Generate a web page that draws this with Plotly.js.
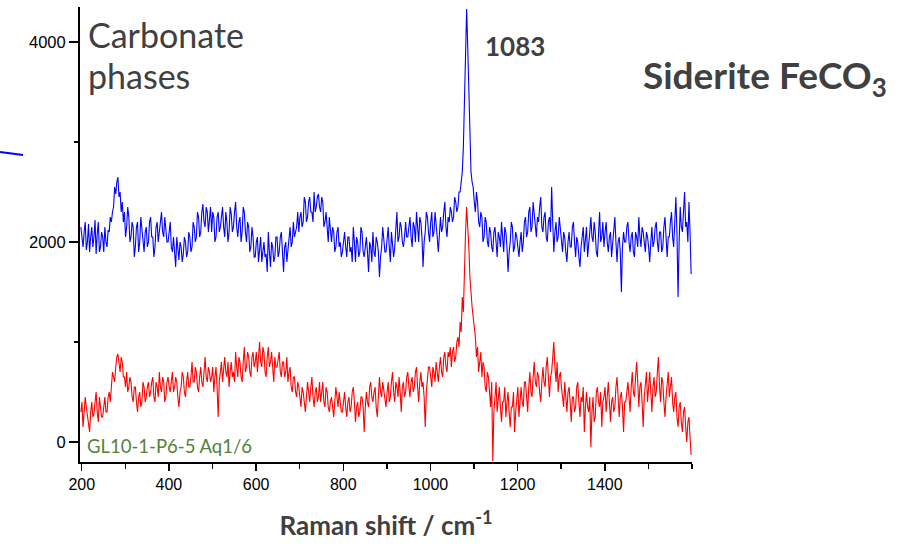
<!DOCTYPE html>
<html>
<head>
<meta charset="utf-8">
<script src="https://cdn.plot.ly/plotly-3.0.1.min.js"></script>
<style>
  html, body { margin: 0; padding: 0; background: #ffffff; }
  #chart { width: 923px; height: 546px; }
</style>
</head>
<body>
<div id="chart"></div>
<script>
// Raman shift (cm-1)
const ramanShift = [
  198,200.5,203,205.5,208,210.5,213,215.5,218,220.5,223,225.5,228,230.5,233,235.5,238,240.5,243,245.5,
  248,250.5,253,255.5,258,260.5,263,265.5,268,270.5,273,275.5,278,280.5,283,285.5,288,290.5,293,295.5,
  298,300.5,303,305.5,308,310.5,313,315.5,318,320.5,323,325.5,328,330.5,333,335.5,338,340.5,343,345.5,
  348,350.5,353,355.5,358,360.5,363,365.5,368,370.5,373,375.5,378,380.5,383,385.5,388,390.5,393,395.5,
  398,400.5,403,405.5,408,410.5,413,415.5,418,420.5,423,425.5,428,430.5,433,435.5,438,440.5,443,445.5,
  448,450.5,453,455.5,458,460.5,463,465.5,468,470.5,473,475.5,478,480.5,483,485.5,488,490.5,493,495.5,
  498,500.5,503,505.5,508,510.5,513,515.5,518,520.5,523,525.5,528,530.5,533,535.5,538,540.5,543,545.5,
  548,550.5,553,555.5,558,560.5,563,565.5,568,570.5,573,575.5,578,580.5,583,585.5,588,590.5,593,595.5,
  598,600.5,603,605.5,608,610.5,613,615.5,618,620.5,623,625.5,628,630.5,633,635.5,638,640.5,643,645.5,
  648,650.5,653,655.5,658,660.5,663,665.5,668,670.5,673,675.5,678,680.5,683,685.5,688,690.5,693,695.5,
  698,700.5,703,705.5,708,710.5,713,715.5,718,720.5,723,725.5,728,730.5,733,735.5,738,740.5,743,745.5,
  748,750.5,753,755.5,758,760.5,763,765.5,768,770.5,773,775.5,778,780.5,783,785.5,788,790.5,793,795.5,
  798,800.5,803,805.5,808,810.5,813,815.5,818,820.5,823,825.5,828,830.5,833,835.5,838,840.5,843,845.5,
  848,850.5,853,855.5,858,860.5,863,865.5,868,870.5,873,875.5,878,880.5,883,885.5,888,890.5,893,895.5,
  898,900.5,903,905.5,908,910.5,913,915.5,918,920.5,923,925.5,928,930.5,933,935.5,938,940.5,943,945.5,
  948,950.5,953,955.5,958,960.5,963,965.5,968,970.5,973,975.5,978,980.5,983,985.5,988,990.5,993,995.5,
  998,1000.5,1003,1005.5,1008,1010.5,1013,1015.5,1018,1020.5,1023,1025.5,1028,1030.5,1033,1035.5,1038,1040.5,1043,1045.5,
  1048,1050.5,1053,1055.5,1058,1060.5,1063,1065.5,1068,1070.5,1073,1075.5,1078,1080.5,1083,1085.5,1088,1090.5,1093,1095.5,
  1098,1100.5,1103,1105.5,1108,1110.5,1113,1115.5,1118,1120.5,1123,1125.5,1128,1130.5,1133,1135.5,1138,1140.5,1143,1145.5,
  1148,1150.5,1153,1155.5,1158,1160.5,1163,1165.5,1168,1170.5,1173,1175.5,1178,1180.5,1183,1185.5,1188,1190.5,1193,1195.5,
  1198,1200.5,1203,1205.5,1208,1210.5,1213,1215.5,1218,1220.5,1223,1225.5,1228,1230.5,1233,1235.5,1238,1240.5,1243,1245.5,
  1248,1250.5,1253,1255.5,1258,1260.5,1263,1265.5,1268,1270.5,1273,1275.5,1278,1280.5,1283,1285.5,1288,1290.5,1293,1295.5,
  1298,1300.5,1303,1305.5,1308,1310.5,1313,1315.5,1318,1320.5,1323,1325.5,1328,1330.5,1333,1335.5,1338,1340.5,1343,1345.5,
  1348,1350.5,1353,1355.5,1358,1360.5,1363,1365.5,1368,1370.5,1373,1375.5,1378,1380.5,1383,1385.5,1388,1390.5,1393,1395.5,
  1398,1400.5,1403,1405.5,1408,1410.5,1413,1415.5,1418,1420.5,1423,1425.5,1428,1430.5,1433,1435.5,1438,1440.5,1443,1445.5,
  1448,1450.5,1453,1455.5,1458,1460.5,1463,1465.5,1468,1470.5,1473,1475.5,1478,1480.5,1483,1485.5,1488,1490.5,1493,1495.5,
  1498,1500.5,1503,1505.5,1508,1510.5,1513,1515.5,1518,1520.5,1523,1525.5,1528,1530.5,1533,1535.5,1538,1540.5,1543,1545.5,
  1548,1550.5,1553,1555.5,1558,1560.5,1563,1565.5,1568,1570.5,1573,1575.5,1578,1580.5,1583,1585.5,1588,1590.5,1593,1595.5,
  1598
];

// Upper spectrum (blue, offset)
const blueIntensity = [
  2150,2020,1950,2100,2200,1920,2000,2180,1900,2050,2150,1950,2050,2220,1880,2080,2200,1900,1950,2100,
  2050,1900,2150,2000,1950,2120,2100,2250,2200,2300,2350,2550,2480,2600,2650,2450,2500,2300,2400,2200,
  2300,2050,2150,2350,2250,2000,2050,2200,2150,1850,1950,2150,2200,1900,2000,2250,2100,1950,1900,2100,
  2150,1950,2000,2200,2250,2050,2050,1850,1950,2150,2200,2000,2100,2250,2300,2100,2050,2250,2150,2000,
  2000,2100,2200,1950,1900,2050,1850,1750,2050,1900,1820,2000,1950,1800,1880,2050,2000,1850,1900,2100,
  2050,1900,1950,2200,2150,2000,2050,2300,2250,2050,2100,2300,2380,2200,2150,2350,2300,2100,2200,2350,
  2100,2300,2250,2000,2050,2250,2300,2100,2150,2250,2350,2150,2050,2300,2200,2000,2100,2350,2280,2100,
  2150,2300,2400,2150,2050,2200,2250,2000,2100,2350,2300,2100,2000,2200,2150,1900,1950,2150,2050,1850,
  1850,2000,2050,1800,1900,2050,1800,1950,2000,1850,1880,1700,2100,1900,1750,2000,1950,1800,1850,2050,
  2050,1850,1900,2050,2100,1900,1700,1950,2000,1800,1950,2100,2150,1950,2000,2200,2050,2100,2150,2300,
  2100,2250,2300,2150,2200,2450,2400,2200,2250,2400,2450,2300,2300,2200,2500,2300,2350,2450,2480,2350,
  2300,2450,2400,2150,2200,2300,2100,2000,2250,2100,2000,2150,2100,1900,1950,2100,2150,1950,2000,1850,
  1900,2000,2100,1950,1850,2050,2050,1900,1950,1800,2150,2000,1800,2050,2000,1850,1900,2150,2100,1900,
  1850,1950,2050,1900,1700,2000,1950,1800,2100,1900,1850,2050,2000,1900,1650,1850,1950,2150,2050,1900,
  1900,2050,2150,1950,1800,2100,2000,1850,1950,2100,2300,2000,2050,2200,2150,2000,1950,2050,2200,2050,
  2050,2150,2250,2050,1950,2200,2150,2000,2300,2150,2000,2250,2200,2050,1750,2000,2100,2300,2250,2100,
  2000,2200,2300,2050,2100,2300,2200,2050,1900,2150,2250,2100,2150,2300,2400,2150,2050,2250,2200,2350,
  2300,2200,2250,2450,2400,2300,2350,2500,2500,2600,2700,2950,3350,3900,4330,3950,3450,2950,2700,2600,
  2550,2400,2300,2500,2400,2200,2150,2300,2250,2000,2050,2250,2200,2000,1950,2150,2100,1950,1900,2100,
  2150,2000,1850,2100,2050,1950,2200,2050,1900,2150,2100,1950,1700,1900,2000,2200,2150,1900,1950,2100,
  2050,1950,1850,2000,2100,1900,2000,2200,2250,2050,2100,2300,2350,2100,2150,2400,2300,2150,2050,2250,
  2200,2350,2450,2150,2100,2250,2300,2050,2000,2200,2250,2100,2550,2200,1900,2100,2200,2000,2050,2250,
  2150,2000,1900,2100,2050,1900,1800,2000,2100,1950,1950,2150,2200,2000,1850,2050,2000,1850,1750,1950,
  2050,2150,1900,2050,2150,1850,1950,2100,2250,2050,2000,2200,2100,1900,1850,2150,2300,2000,2050,2200,
  1950,2100,2200,2000,1900,2050,2100,1850,2000,2200,2250,2000,1800,2000,2050,1900,1500,1950,2100,2000,
  2000,2150,2200,2000,1900,2050,2100,1900,1850,2100,2050,1950,2250,2050,1950,2150,2100,2000,1900,2100,
  2050,1950,1800,2000,2150,1950,2000,2150,2200,2000,1900,2100,2100,1900,1950,2150,2250,2050,1850,2050,
  2050,2200,2300,2050,1950,2200,2450,2100,1450,2000,2350,2150,2100,2300,2500,2150,2200,2000,2400,2100,
  1680
];

// Lower spectrum (red)
const redIntensity = [
  300,400,150,300,450,350,250,150,100,300,400,250,280,400,500,300,200,450,350,250,
  250,350,450,300,300,450,500,400,550,700,650,600,750,850,880,750,700,850,800,650,
  650,550,700,500,550,650,600,450,400,550,550,400,300,450,500,350,400,600,550,400,
  450,550,600,450,500,600,650,450,400,600,550,450,700,550,500,650,600,400,450,600,
  650,550,500,600,700,500,550,650,600,450,350,500,550,700,650,500,450,600,700,550,
  550,650,800,600,600,750,700,550,500,650,750,600,550,700,850,650,600,750,700,600,
  650,750,500,650,750,550,250,600,700,800,600,700,850,700,650,800,550,700,800,650,
  700,600,900,750,650,850,800,650,600,800,950,700,750,900,850,700,650,850,900,750,
  800,900,700,850,1000,800,750,950,900,700,650,850,950,750,800,900,700,600,850,750,
  750,850,900,700,650,800,800,650,700,850,600,700,750,550,500,650,650,500,450,600,
  550,450,350,550,500,400,300,450,600,500,400,550,650,450,350,500,550,400,450,600,
  400,500,600,400,350,550,500,350,300,400,450,350,250,400,550,450,350,500,400,300,
  300,400,500,350,250,400,450,300,350,500,550,400,200,350,400,250,300,450,450,350,
  100,350,500,400,350,550,600,450,400,500,550,350,250,450,650,500,450,600,500,400,
  350,500,600,400,450,600,700,500,400,600,550,450,650,500,300,550,600,450,500,650,
  700,550,450,600,650,500,550,700,750,550,400,600,700,550,600,450,150,500,650,750,
  750,600,550,750,700,600,800,700,600,750,850,700,650,850,900,750,700,900,850,950,
  750,900,950,800,850,1000,1050,950,1200,1100,1450,1300,1800,2100,2350,2200,1950,1650,1450,1350,
  1250,1150,1050,850,950,700,800,900,650,800,750,550,500,700,650,450,350,600,-190,300,
  450,600,300,450,550,350,200,400,400,550,250,400,500,300,150,350,350,500,100,300,
  400,550,250,450,550,400,350,600,600,450,300,550,700,500,450,650,800,600,550,700,
  650,500,400,600,750,600,550,750,850,650,450,650,700,850,1000,750,600,800,500,650,
  700,550,450,350,600,450,300,500,550,400,200,450,450,300,350,550,600,400,250,450,
  400,550,100,350,500,350,300,450,-50,300,450,200,250,500,550,400,350,500,150,400,
  450,550,300,450,600,400,200,400,450,300,350,550,650,450,250,450,500,350,100,400,
  400,500,600,450,300,550,700,500,450,650,800,600,350,550,600,400,150,450,550,700,
  400,600,700,500,300,550,650,450,500,700,850,550,400,650,600,400,250,450,550,700,
  450,600,650,400,300,450,500,250,150,350,400,200,100,300,350,150,0,200,250,50,
  -130
];

const xTickVals = [200, 400, 600, 800, 1000, 1200, 1400];
const xTickText = ["200", "400", "600", "800", "1000", "1200", "1400"];
const yTickVals = [0, 2000, 4000];
const yTickText = ["0", "2000", "4000"];

const traces = [
  {
    x: ramanShift, y: blueIntensity, type: 'scatter', mode: 'lines',
    line: { color: '#0000FF', width: 1.1 }, name: 'upper', hoverinfo: 'skip'
  },
  {
    x: ramanShift, y: redIntensity, type: 'scatter', mode: 'lines',
    line: { color: '#FF0000', width: 1.1 }, name: 'GL10-1-P6-5 Aq1/6', hoverinfo: 'skip'
  }
];

const grey = '#404040';
const layout = {
  width: 923, height: 546,
  margin: { l: 80, r: 231, t: 7, b: 84, pad: 0 },
  paper_bgcolor: '#ffffff', plot_bgcolor: '#ffffff',
  showlegend: false,
  font: { family: 'Liberation Sans, Arial, sans-serif', color: '#000000' },
  xaxis: {
    range: [196, 1600],
    showline: true, linecolor: '#000000', linewidth: 2, mirror: false,
    showgrid: false, zeroline: false,
    ticks: 'outside', ticklen: 7, tickwidth: 1.5, tickcolor: '#000000',
    tickmode: 'array', tickvals: xTickVals, ticktext: xTickText,
    tickfont: { family: 'Liberation Sans, Arial, sans-serif', size: 16, color: '#000000' },
    minor: { ticks: 'outside', dtick: 100, tick0: 200, ticklen: 5, tickwidth: 1.5, tickcolor: '#000000', showgrid: false },
    title: {
      text: '<b>Raman shift / cm<sup>-1</sup></b>',
      font: { family: 'Lato, sans-serif', size: 26, color: grey },
      standoff: 25
    }
  },
  yaxis: {
    range: [-200, 4350],
    showline: true, linecolor: '#000000', linewidth: 2, mirror: false,
    showgrid: false, zeroline: false,
    ticks: 'outside', ticklen: 9, tickwidth: 1.5, tickcolor: '#000000',
    tickmode: 'array', tickvals: yTickVals, ticktext: yTickText,
    tickfont: { family: 'Liberation Sans, Arial, sans-serif', size: 16.5, color: '#000000' },
    minor: { ticks: 'outside', dtick: 1000, tick0: 0, ticklen: 4, tickwidth: 1.5, tickcolor: '#000000', showgrid: false }
  },
  shapes: [
    { type: 'line', xref: 'paper', yref: 'paper',
      x0: -0.1307, y0: 0.6813, x1: -0.0931, y1: 0.6747,
      line: { color: '#0000FF', width: 2 } }
  ],
  annotations: [
    { text: 'Carbonate', xref: 'paper', yref: 'paper', x: 0.0098, y: 0.9385,
      xanchor: 'left', yanchor: 'middle', showarrow: false,
      font: { family: 'Lato, sans-serif', size: 34, color: grey } },
    { text: 'phases', xref: 'paper', yref: 'paper', x: 0.0098, y: 0.850,
      xanchor: 'left', yanchor: 'middle', showarrow: false,
      font: { family: 'Lato, sans-serif', size: 34, color: grey } },
    { text: '<b>1083</b>', xref: 'paper', yref: 'paper', x: 0.6585, y: 0.914,
      xanchor: 'left', yanchor: 'middle', showarrow: false,
      font: { family: 'Lato, sans-serif', size: 26, color: grey } },
    { text: '<b>Siderite FeCO<sub>3</sub></b>', xref: 'paper', yref: 'paper', x: 0.9167, y: 0.846,
      xanchor: 'left', yanchor: 'middle', showarrow: false,
      font: { family: 'Lato, sans-serif', size: 37, color: grey } },
    { text: 'GL10-1-P6-5 Aq1/6', xref: 'paper', yref: 'paper', x: 0.0082, y: 0.035,
      xanchor: 'left', yanchor: 'middle', showarrow: false,
      font: { family: 'Lato, sans-serif', size: 18.5, color: '#548235' } }
  ]
};

Plotly.newPlot('chart', traces, layout, { displayModeBar: false, staticPlot: true });
</script>
</body>
</html>
